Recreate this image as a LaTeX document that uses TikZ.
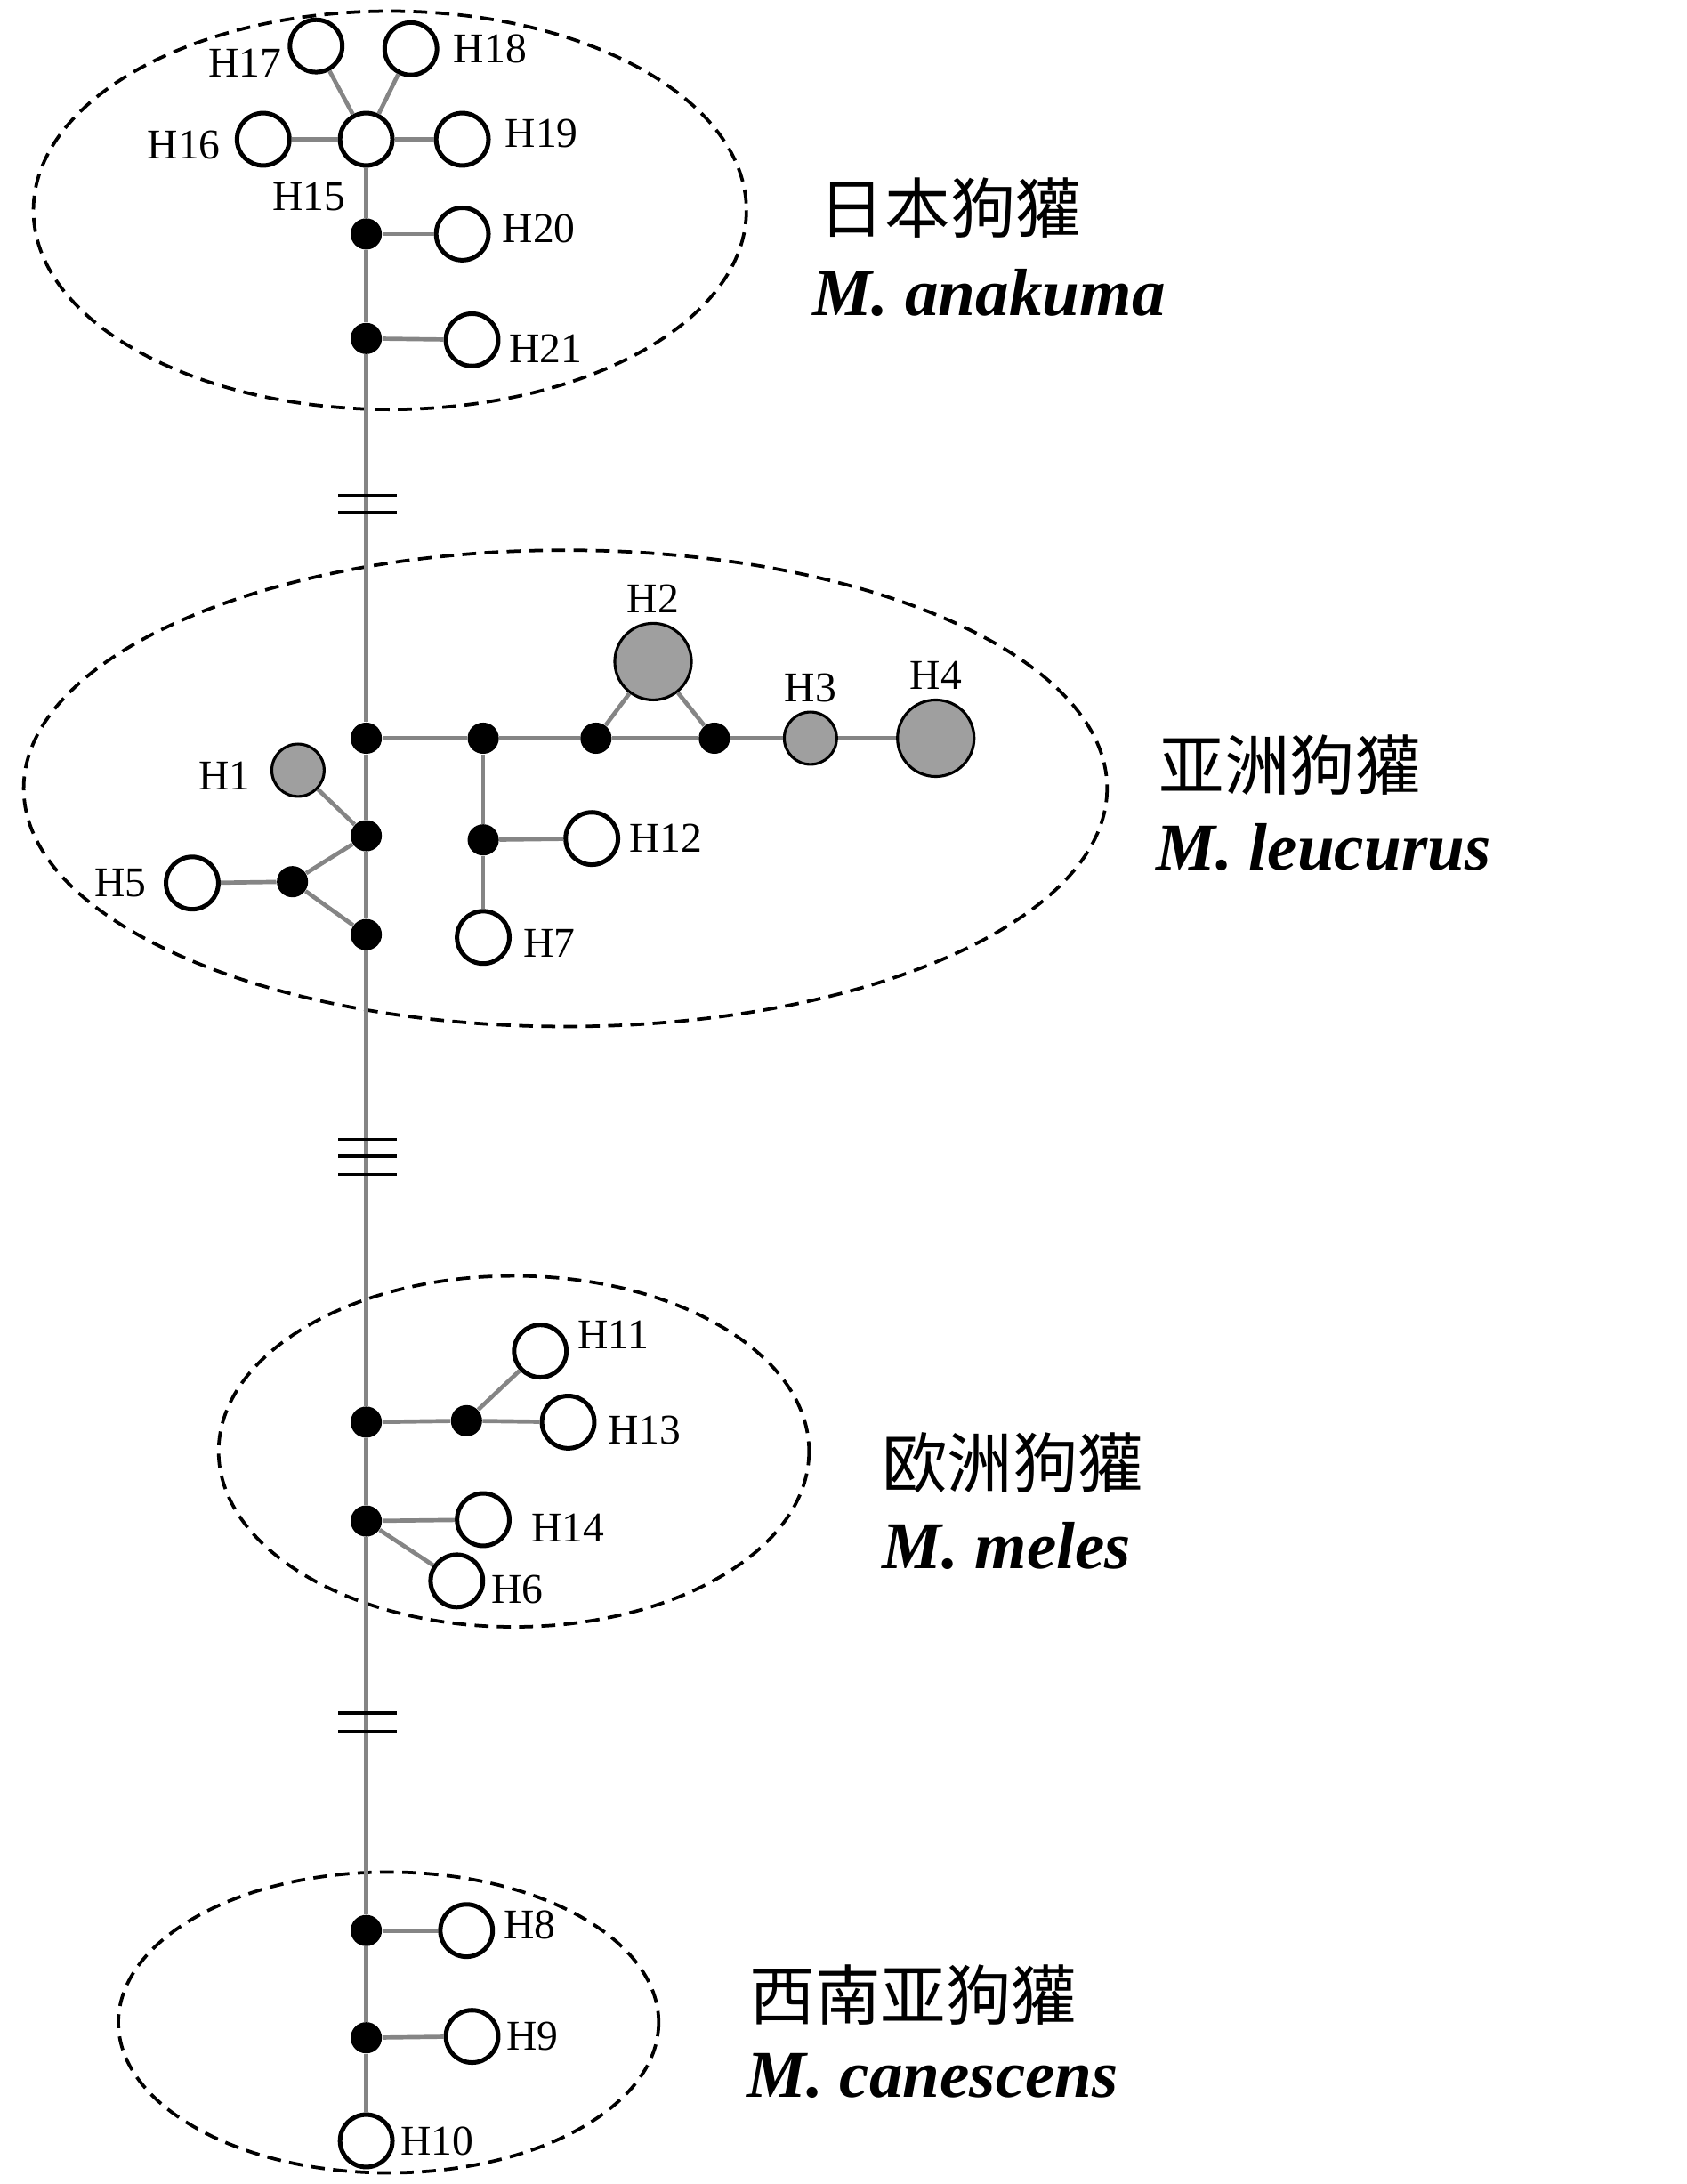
\documentclass[tikz,border=0pt]{standalone}
\usepackage{fontspec}
\setmainfont{Liberation Serif}
\newfontfamily\cjk{Noto Sans CJK SC}
\usetikzlibrary{positioning}

\begin{document}
\begin{tikzpicture}[x=0.5pt,y=-0.5pt]
        \tikzset{hap/.style={circle,draw,line width=1.6pt,fill=white,minimum size=18.8pt,inner sep=0pt},
            shared/.style={hap,fill=gray!75,line width=1pt},
            big/.style={shared,minimum size=27.5pt},
            median/.style={circle,fill=black,minimum size=11.2pt,inner sep=0pt},
            lab/.style={font=\fontsize{15.2}{16}\selectfont,inner sep=1pt},
            link/.style={draw=black!48,line width=1.5pt},
            group/.style={dash pattern=on 5pt off 3pt,line width=1.2pt},
            breakmark/.style={line width=1.1pt},
            zh/.style={font=\cjk\fontsize{23.5}{24}\selectfont,anchor=west,inner sep=0pt},
            sp/.style={font=\bfseries\itshape\fontsize{24}{26}\selectfont,anchor=west,inner sep=0pt}}
        \useasboundingbox (0,0) rectangle (1211,1568);

        % groups
        \draw[group] (280,151) ellipse [x radius=256, y radius=143];
        \draw[group] (406,566) ellipse [x radius=389, y radius=171];
        \draw[group] (369,1042) ellipse [x radius=212, y radius=126];
        \draw[group] (279,1452) ellipse [x radius=194, y radius=108];

        % M. anakuma
        \node[hap] (h15) at (263,100) {};
        \node[hap] (h16) at (189,100) {};
        \node[hap] (h17) at (227,33) {};
        \node[hap] (h18) at (295,35) {};
        \node[hap] (h19) at (332,100) {};
        \node[median] (j1) at (263,168) {};
        \node[hap] (h20) at (332,168) {};
        \node[median] (j2) at (263,243) {};
        \node[hap] (h21) at (339,244) {};
        \node[lab,left=1pt of h17,yshift=-6pt] {H17};
        \node[lab,right=4pt of h18] {H18};
        \node[lab,left=4pt of h16,yshift=-2pt] {H16};
        \node[lab,right=4pt of h19,yshift=2pt] {H19};
        \node[lab,below left=7pt and -1pt of h15] {H15};
        \node[lab,right=3pt of h20,yshift=2pt] {H20};
        \node[lab,right=2pt of h21,yshift=-3pt] {H21};

        % M. leucurus
        \node[median] (a1) at (263,530) {};
        \node[median] (a2) at (347,530) {};
        \node[median] (a3) at (428,530) {};
        \node[median] (a4) at (513,530) {};
        \node[median] (a5) at (263,600) {};
        \node[median] (a6) at (210,633) {};
        \node[median] (a7) at (263,671) {};
        \node[median] (a8) at (347,603) {};
        \node[big] (h2) at (469,475) {};
        \node[shared] (h3) at (582,530) {};
        \node[big] (h4) at (672,530) {};
        \node[shared] (h1) at (214,553) {};
        \node[hap] (h5) at (138,634) {};
        \node[hap] (h12) at (425,602) {};
        \node[hap] (h7) at (347,673) {};
        \node[lab,above=2pt of h2] {H2};
        \node[lab,above=2pt of h3] {H3};
        \node[lab,above=2pt of h4] {H4};
        \node[lab,left=6pt of h1,yshift=-2pt] {H1};
        \node[lab,left=5pt of h5] {H5};
        \node[lab,right=2pt of h12] {H12};
        \node[lab,right=3pt of h7,yshift=-2pt] {H7};

        % M. meles
        \node[median] (e1) at (263,1021) {};
        \node[median] (e2) at (335,1020) {};
        \node[median] (e3) at (263,1092) {};
        \node[hap] (h11) at (388,970) {};
        \node[hap] (h13) at (408,1021) {};
        \node[hap] (h14) at (347,1091) {};
        \node[hap] (h6) at (328,1135) {};
        \node[lab,right=2pt of h11,yshift=6pt] {H11};
        \node[lab,right=3pt of h13,yshift=-3pt] {H13};
        \node[lab,right=6pt of h14,yshift=-3pt] {H14};
        \node[lab,right=1pt of h6,yshift=-3pt] {H6};

        % M. canescens
        \node[median] (s1) at (263,1386) {};
        \node[median] (s2) at (263,1463) {};
        \node[hap] (h8) at (335,1386) {};
        \node[hap] (h9) at (339,1462) {};
        \node[hap] (h10) at (263,1537) {};
        \node[lab,right=2pt of h8,yshift=2pt] {H8};
        \node[lab,right=1pt of h9] {H9};
        \node[lab,right=1pt of h10] {H10};

        % links
        \draw[link] (h15) -- (j1) -- (j2) -- (a1) -- (a5) -- (a7) -- (e1) -- (e3) -- (s1) -- (s2) -- (h10);
        \draw[link] (h15) -- (h17);
        \draw[link] (h15) -- (h18);
        \draw[link] (h15) -- (h16);
        \draw[link] (h15) -- (h19);
        \draw[link] (j1) -- (h20);
        \draw[link] (j2) -- (h21);
        \draw[link] (a1) -- (a2) -- (a3) -- (a4) -- (h3) -- (h4);
        \draw[link] (a3) -- (h2);
        \draw[link] (a4) -- (h2);
        \draw[link] (h1) -- (a5);
        \draw[link] (a6) -- (a5);
        \draw[link] (a6) -- (a7);
        \draw[link] (a6) -- (h5);
        \draw[link] (a2) -- (a8) -- (h7);
        \draw[link] (a8) -- (h12);
        \draw[link] (e1) -- (e2) -- (h13);
        \draw[link] (e2) -- (h11);
        \draw[link] (e3) -- (h14);
        \draw[link] (e3) -- (h6);
        \draw[link] (s1) -- (h8);
        \draw[link] (s2) -- (h9);

        % breaks
        \foreach \y in {356,368,1230,1243}
            \draw[breakmark] (243,\y) -- (285,\y);
        \foreach \y in {818,830,843}
            \draw[breakmark] (243,\y) -- (285,\y);

        % species
        \node[zh] at (588,149) {日本狗獾};
        \node[sp] at (583,210) {M. anakuma};
        \node[zh] at (832,549) {亚洲狗獾};
        \node[sp] at (830,608) {M. leucurus};
        \node[zh] at (633,1050) {欧洲狗獾};
        \node[sp] at (633,1110) {M. meles};
        \node[zh] at (538,1432) {西南亚狗獾};
        \node[sp] at (536,1490) {M. canescens};
    \end{tikzpicture}
\end{document}
